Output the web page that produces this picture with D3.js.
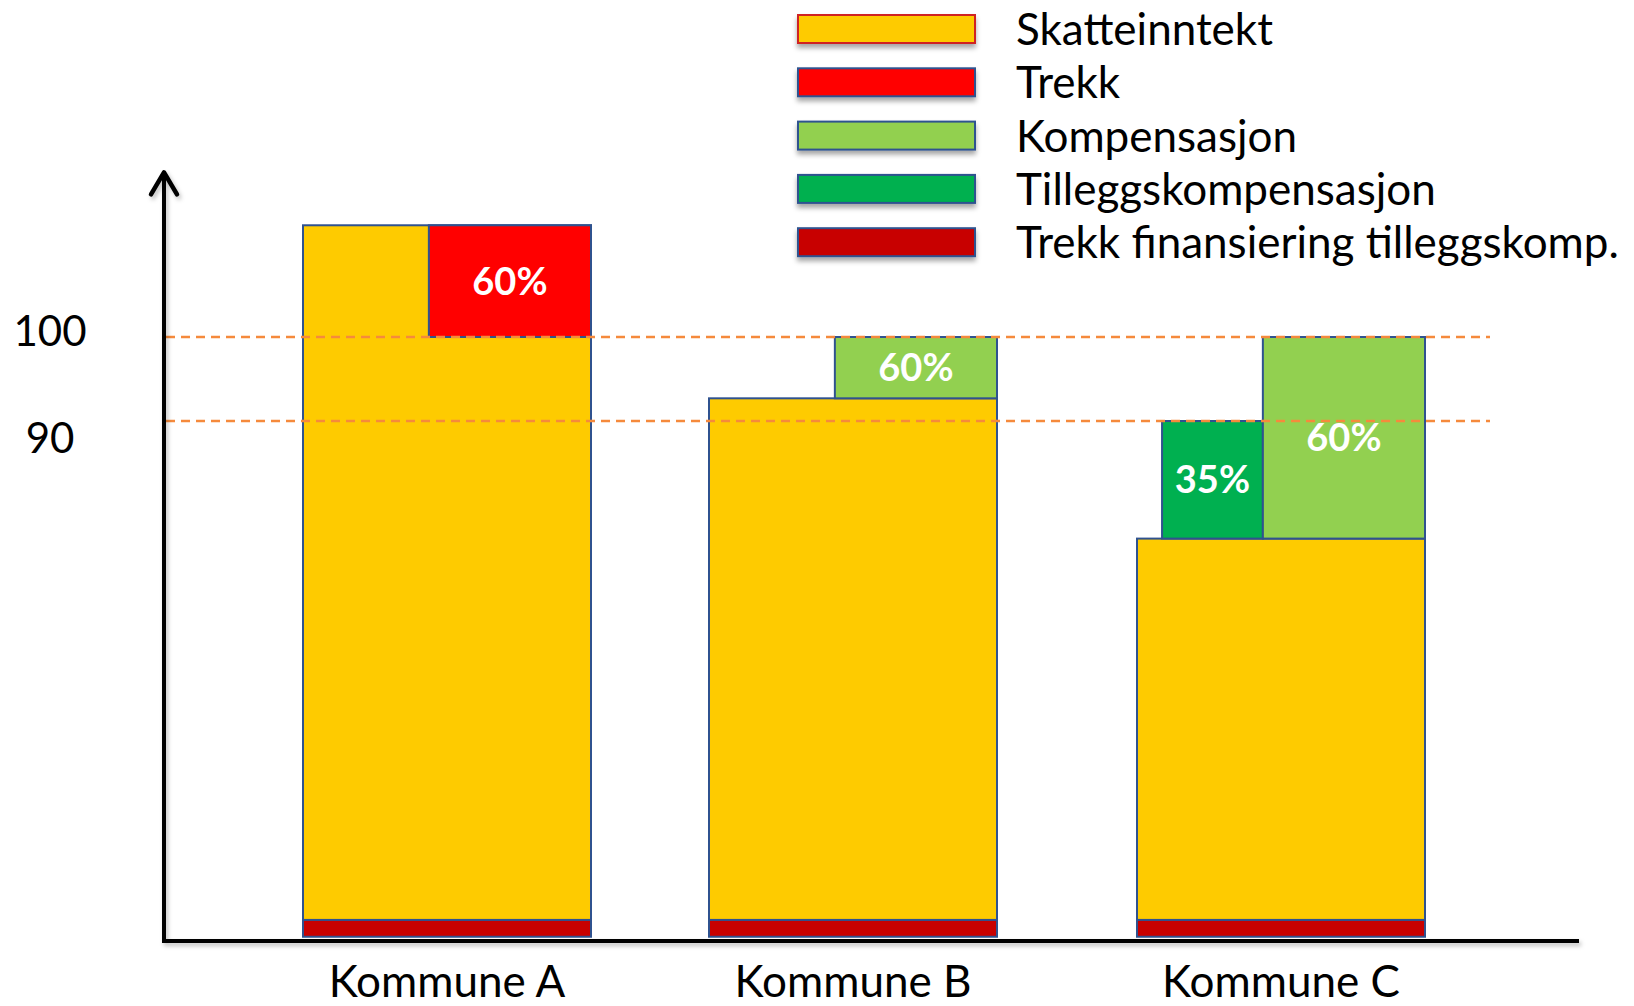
<!DOCTYPE html>
<html>
<head>
<meta charset="utf-8">
<script src="https://cdn.jsdelivr.net/npm/d3@7"></script>
<style>
  html, body { margin: 0; padding: 0; background: #fff; }
  svg { display: block; }
  text { font-family: Lato, "Open Sans", sans-serif; }
</style>
</head>
<body>
<svg id="chart"></svg>
<script>
// data (in "index" units where the dashed lines are 90 and 100)
const categories    = ["Kommune A", "Kommune B", "Kommune C"];
const skatteinntekt = [113.3, 92.7, 76.0];   // top of the yellow bar
const trekk         = [13.3, 0, 0];          // red box taken from the top
const kompensasjon  = [0, 7.3, 24.0];        // light green above the bar
const tilleggskomp  = [0, 0, 14.0];          // dark green above the bar
const trekkFinans   = [2.0, 2.0, 2.0];       // dark red strip at the bottom
const trekkPct      = ["60%", "", ""];
const kompPct       = ["", "60%", "60%"];
const tilleggPct    = ["", "", "35%"];
const yTicks        = [100, 90];
const legendLabels  = ["Skatteinntekt", "Trekk", "Kompensasjon", "Tilleggskompensasjon", "Trekk finansiering tilleggskomp."];

const BASE = 28.6;      // where the bars start
const AXIS_MIN = 28.1;  // where the x axis sits
const AXIS_TOP = 119.6; // arrow tip

const W = 1634, H = 1006;

const colors = {
  skatt: "#FECB00",
  trekk: "#FF0000",
  komp: "#92D050",
  tillegg: "#00B050",
  finans: "#C80000"
};
const legendColors = [colors.skatt, colors.trekk, colors.komp, colors.tillegg, colors.finans];

const svg = d3.select("#chart").attr("width", W).attr("height", H);

const defs = svg.append("defs");
defs.append("filter").attr("id", "shadow")
    .attr("x", "-10%").attr("y", "-30%").attr("width", "120%").attr("height", "180%")
  .append("feDropShadow")
    .attr("dx", 0).attr("dy", 4).attr("stdDeviation", 2.5)
    .attr("flood-color", "#000").attr("flood-opacity", 0.35);
defs.append("filter").attr("id", "axshadow")
    .attr("x", "-10%").attr("y", "-10%").attr("width", "120%").attr("height", "120%")
  .append("feDropShadow")
    .attr("dx", 2).attr("dy", 3).attr("stdDeviation", 2)
    .attr("flood-color", "#000").attr("flood-opacity", 0.25);

// scales: the bars are not evenly spaced in the drawing, so an ordinal scale gives the left edges
const BAR_W = 288;
const x = d3.scaleOrdinal()
    .domain(categories)
    .range([303, 709, 1137]);

const y = d3.scaleLinear()
    .domain([90, 100])
    .range([421, 337]);

// sub columns inside a bar (fractions of the bar width)
const slot = {
  full:  [0, 1],
  right: [0.437, 1],
  left:  [0.087, 0.437]
};

// build segments
const segs = [];
categories.forEach((c, i) => {
  const s = skatteinntekt[i];
  segs.push({ c, key: "skatt", y0: BASE + trekkFinans[i], y1: s, slot: "full", label: "" });
  segs.push({ c, key: "finans", y0: BASE, y1: BASE + trekkFinans[i], slot: "full", label: "" });
  if (trekk[i] > 0) segs.push({ c, key: "trekk", y0: s - trekk[i], y1: s, slot: "right", label: trekkPct[i] });
  if (tilleggskomp[i] > 0) segs.push({ c, key: "tillegg", y0: s, y1: s + tilleggskomp[i], slot: "left", label: tilleggPct[i] });
  if (kompensasjon[i] > 0) segs.push({ c, key: "komp", y0: s, y1: s + kompensasjon[i], slot: "right", label: kompPct[i] });
});

const segX = d => x(d.c) + slot[d.slot][0] * BAR_W;
const segW = d => (slot[d.slot][1] - slot[d.slot][0]) * BAR_W;

// bars
svg.append("g").selectAll("rect")
  .data(segs)
  .join("rect")
    .attr("x", segX)
    .attr("y", d => y(d.y1))
    .attr("width", segW)
    .attr("height", d => y(d.y0) - y(d.y1))
    .attr("fill", d => colors[d.key])
    .attr("stroke", "#2F528F")
    .attr("stroke-width", 2);

// percentage labels
svg.append("g").selectAll("text")
  .data(segs.filter(d => d.label))
  .join("text")
    .attr("x", d => segX(d) + segW(d) / 2)
    .attr("y", d => (y(d.y0) + y(d.y1)) / 2)
    .attr("dy", "0.36em")
    .attr("text-anchor", "middle")
    .attr("fill", "#fff")
    .attr("font-weight", "bold")
    .attr("font-size", 38)
    .text(d => d.label);

// dashed reference lines
svg.append("g").selectAll("line")
  .data(yTicks)
  .join("line")
    .attr("x1", 166)
    .attr("x2", 1490)
    .attr("y1", d => y(d))
    .attr("y2", d => y(d))
    .attr("stroke", "#F58A3C")
    .attr("stroke-width", 2.4)
    .attr("stroke-dasharray", "9 6");

// y tick labels
svg.append("g").selectAll("text")
  .data(yTicks)
  .join("text")
    .attr("x", 50)
    .attr("y", d => y(d) + (d === 100 ? 9 : 32))
    .attr("text-anchor", "middle")
    .attr("font-size", 42)
    .attr("fill", "#000")
    .text(d => d);

// axes
const ax = svg.append("g").attr("filter", "url(#axshadow)");
ax.append("line")
    .attr("x1", 165).attr("x2", 1579)
    .attr("y1", y(AXIS_MIN)).attr("y2", y(AXIS_MIN))
    .attr("stroke", "#000").attr("stroke-width", 4);
ax.append("line")
    .attr("x1", 164).attr("x2", 164)
    .attr("y1", y(AXIS_MIN) + 2).attr("y2", y(AXIS_TOP) + 1)
    .attr("stroke", "#000").attr("stroke-width", 4);
ax.append("path")
    .attr("d", `M151,${y(AXIS_TOP) + 22} L164,${y(AXIS_TOP)} L177,${y(AXIS_TOP) + 22}`)
    .attr("fill", "none")
    .attr("stroke", "#000").attr("stroke-width", 4.5)
    .attr("stroke-linejoin", "round").attr("stroke-linecap", "round");

// category labels
const xAxis = svg.append("g")
    .attr("transform", `translate(0,${y(AXIS_MIN)})`);
xAxis.selectAll("text")
  .data(categories)
  .join("text")
    .attr("x", d => x(d) + BAR_W / 2)
    .attr("y", 56)
    .attr("text-anchor", "middle")
    .attr("font-size", 44)
    .attr("fill", "#000")
    .text(d => d);

// legend
const legend = svg.append("g");
const rows = legend.selectAll("g")
  .data(legendLabels)
  .join("g")
    .attr("transform", (d, i) => `translate(798,${15 + i * 53.3})`);
rows.append("rect")
    .attr("width", 177)
    .attr("height", 28)
    .attr("fill", (d, i) => legendColors[i])
    .attr("stroke", (d, i) => i === 0 ? "#D02020" : "#2F528F")
    .attr("stroke-width", 2)
    .attr("filter", "url(#shadow)");
rows.append("text")
    .attr("x", 218)
    .attr("y", 30)
    .attr("font-size", 44)
    .attr("fill", "#000")
    .text(d => d);
</script>
</body>
</html>
